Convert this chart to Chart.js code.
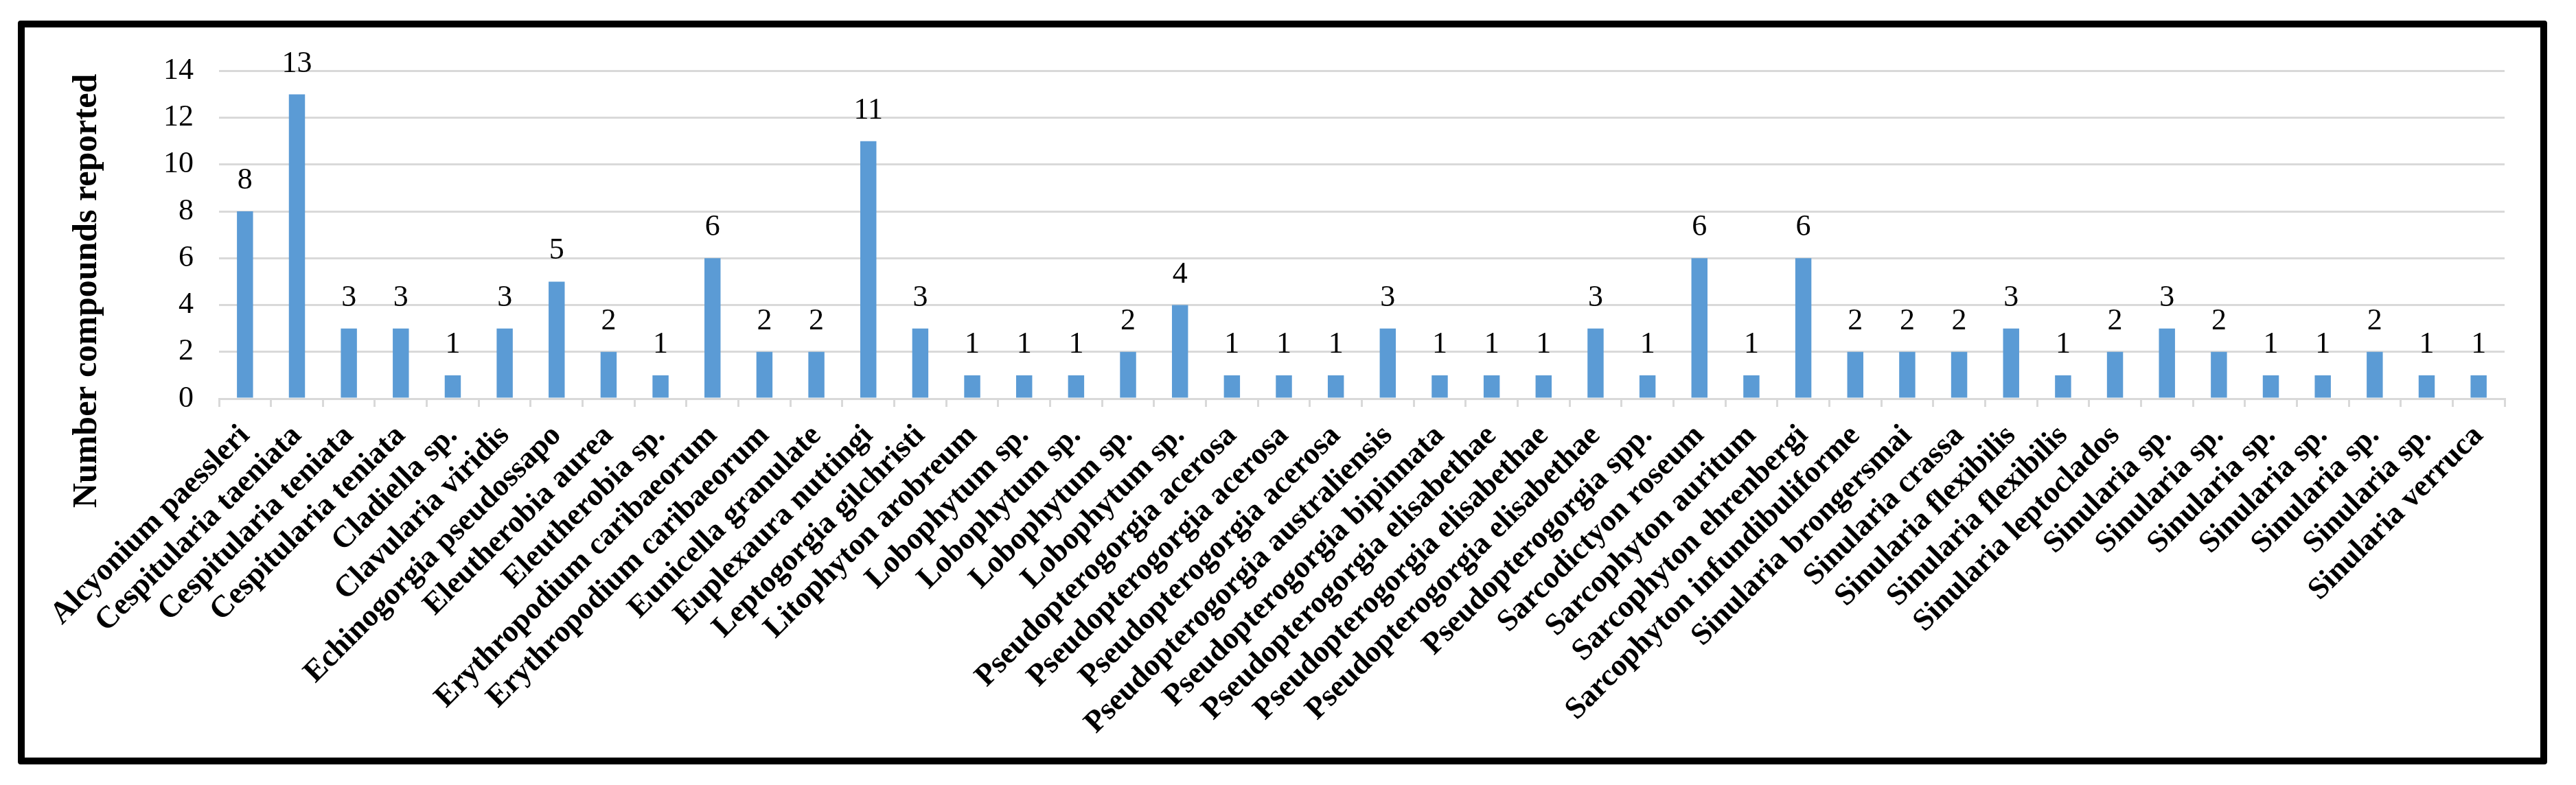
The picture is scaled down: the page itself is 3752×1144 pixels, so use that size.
<!DOCTYPE html>
<html lang="en">
<head>
<meta charset="UTF-8">
<title>Number compounds reported</title>
<script src="https://cdn.jsdelivr.net/npm/chart.js"></script>
<style>
    body {
        margin: 0;
        background: #ffffff;
        width: 3752px;
        height: 1144px;
        overflow: hidden;
    }
    .frame {
        position: absolute;
        left: 26px;
        top: 30px;
        width: 3664px;
        height: 1064px;
        border: 10px solid #000;
        border-radius: 4px;
        background: #fff;
    }
    .frame canvas {
        display: block;
    }
</style>
</head>
<body>
<div class="frame">
    <canvas id="chart" width="3664" height="1064"></canvas>
</div>
<script>
const species = [
    'Alcyonium paessleri', 'Cespitularia taeniata', 'Cespitularia teniata', 'Cespitularia teniata',
    'Cladiella sp.', 'Clavularia viridis', 'Echinogorgia pseudossapo', 'Eleutherobia aurea',
    'Eleutherobia sp.', 'Erythropodium caribaeorum', 'Erythropodium caribaeorum', 'Eunicella granulate',
    'Euplexaura nuttingi', 'Leptogorgia gilchristi', 'Litophyton arobreum', 'Lobophytum sp.',
    'Lobophytum sp.', 'Lobophytum sp.', 'Lobophytum sp.', 'Pseudopterogorgia acerosa',
    'Pseudopterogorgia acerosa', 'Pseudopterogorgia acerosa', 'Pseudopterogorgia australiensis', 'Pseudopterogorgia bipinnata',
    'Pseudopterogorgia elisabethae', 'Pseudopterogorgia elisabethae', 'Pseudopterogorgia elisabethae', 'Pseudopterogorgia spp.',
    'Sarcodictyon roseum', 'Sarcophyton auritum', 'Sarcophyton ehrenbergi', 'Sarcophyton infundibuliforme',
    'Sinularia brongersmai', 'Sinularia crassa', 'Sinularia flexibilis', 'Sinularia flexibilis',
    'Sinularia leptoclados', 'Sinularia sp.', 'Sinularia sp.', 'Sinularia sp.',
    'Sinularia sp.', 'Sinularia sp.', 'Sinularia sp.', 'Sinularia verruca'
];
const compounds = [
    8, 13, 3, 3,
    1, 3, 5, 2,
    1, 6, 2, 2,
    11, 3, 1, 1,
    1, 2, 4, 1,
    1, 1, 3, 1,
    1, 1, 3, 1,
    6, 1, 6, 2,
    2, 2, 3, 1,
    2, 3, 2, 1,
    1, 2, 1, 1
];
const yTicks = [0, 2, 4, 6, 8, 10, 12, 14];
const yTitle = 'Number compounds reported';

const serif = '"Liberation Serif", "Times New Roman", serif';

// value labels above each bar
const valueLabels = {
    id: 'valueLabels',
    afterDatasetsDraw(chart) {
        const ctx = chart.ctx;
        const meta = chart.getDatasetMeta(0);
        ctx.save();
        ctx.font = '44px ' + serif;
        ctx.fillStyle = '#000';
        ctx.textAlign = 'center';
        ctx.textBaseline = 'alphabetic';
        meta.data.forEach((bar, i) => {
            ctx.fillText(String(compounds[i]), bar.x, bar.y - 33);
        });
        ctx.restore();
    }
};

// y title sits a bit lower than the plot centre in the original
const sideTitle = {
    id: 'sideTitle',
    afterDraw(chart) {
        const ctx = chart.ctx;
        ctx.save();
        ctx.translate(104, 384);
        ctx.rotate(-Math.PI / 2);
        ctx.font = 'bold 50px ' + serif;
        ctx.fillStyle = '#000';
        ctx.textAlign = 'center';
        ctx.textBaseline = 'alphabetic';
        ctx.fillText(yTitle, 0, 0);
        ctx.restore();
    }
};

new Chart(document.getElementById('chart'), {
    type: 'bar',
    data: {
        labels: species,
        datasets: [{
            label: yTitle,
            data: compounds,
            backgroundColor: '#5b9bd5',
            borderWidth: 0,
            barPercentage: 0.31,
            categoryPercentage: 1.0
        }]
    },
    options: {
        responsive: false,
        animation: false,
        layout: {
            padding: { top: 50, right: 52, left: 0, bottom: 0 }
        },
        plugins: {
            legend: { display: false },
            tooltip: { enabled: false }
        },
        scales: {
            x: {
                offset: true,
                grid: {
                    offset: true,
                    drawOnChartArea: false,
                    drawTicks: true,
                    tickLength: 12,
                    color: '#d9d9d9',
                    lineWidth: 3
                },
                border: { display: true, color: '#d9d9d9', width: 3 },
                ticks: {
                    autoSkip: false,
                    maxRotation: 45,
                    minRotation: 45,
                    padding: 16,
                    color: '#000',
                    font: { family: serif, size: 45, weight: 'bold' }
                },
                afterFit(scale) { scale.height = 523; }
            },
            y: {
                min: 0,
                max: 14,
                afterBuildTicks(scale) { scale.ticks = yTicks.map(v => ({ value: v })); },
                grid: {
                    color: '#d9d9d9',
                    lineWidth: 3,
                    drawTicks: false
                },
                border: { display: false },
                ticks: {
                    padding: 37,
                    color: '#000',
                    font: { family: serif, size: 44 }
                },
                afterFit(scale) { scale.width = 283; }
            }
        }
    },
    plugins: [valueLabels, sideTitle]
});
</script>
</body>
</html>
